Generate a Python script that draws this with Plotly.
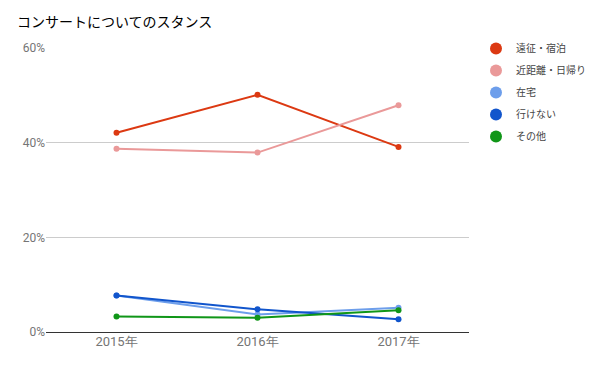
import plotly.graph_objects as go

years = ["2015年", "2016年", "2017年"]
series_names = ["遠征・宿泊", "近距離・日帰り", "在宅", "行けない", "その他"]
enseki = [42.1, 50.1, 39.1]
kinkyori = [38.7, 37.9, 47.9]
zaitaku = [7.7, 3.7, 5.1]
ikenai = [7.7, 4.8, 2.7]
sonota = [3.3, 3.0, 4.6]
colors = ["#dc3912", "#ea9999", "#6d9eeb", "#1155cc", "#109618"]
y_ticks = [0, 20, 40, 60]
y_tick_text = ["0%", "20%", "40%", "60%"]

values = [enseki, kinkyori, zaitaku, ikenai, sonota]

fig = go.Figure()
for name, vals, col in zip(series_names, values, colors):
    fig.add_trace(go.Scatter(
        x=years, y=vals, mode="lines+markers", name=name,
        line=dict(color=col, width=2), marker=dict(color=col, size=6),
        showlegend=False, hoverinfo="x+y+name"))
for i, (name, col) in enumerate(zip(series_names, colors)):
    fig.add_trace(go.Scatter(
        x=[None], y=[None], mode="markers", name=name, legendgroup=str(i),
        marker=dict(color=col, size=12), showlegend=True))

fig.update_layout(
    width=597, height=368,
    margin=dict(l=46, r=128, t=48, b=36, autoexpand=False),
    paper_bgcolor="white", plot_bgcolor="white",
    title=dict(text="コンサートについてのスタンス", x=17/597, xanchor="left",
               y=1 - 22/368, yanchor="middle",
               font=dict(family="Noto Sans CJK JP", size=14, color="#000")),
    xaxis=dict(type="category", range=[-0.5, 2.5], showgrid=False,
               showline=False, ticks="", zeroline=False, automargin=False,
               tickfont=dict(family="Roboto", size=13, color="#757575")),
    yaxis=dict(range=[0, 60], tickvals=y_ticks, ticktext=y_tick_text,
               showgrid=True, gridcolor="#cccccc", gridwidth=1,
               zeroline=True, zerolinecolor="#333333", zerolinewidth=1,
               showline=False, ticks="", automargin=False,
               tickfont=dict(family="Roboto", size=12, color="#757575")),
    legend=dict(xref="container", yref="container", x=476/597, xanchor="left",
                y=1 - 34/368, yanchor="top",
                font=dict(family="Noto Sans CJK JP", size=10, color="#444"),
                tracegroupgap=3, itemsizing="constant", bgcolor="rgba(0,0,0,0)"),
    showlegend=True,
)

fig.write_html("out.html", config={"displayModeBar": False},
               post_script="document.body.style.margin='0';")
